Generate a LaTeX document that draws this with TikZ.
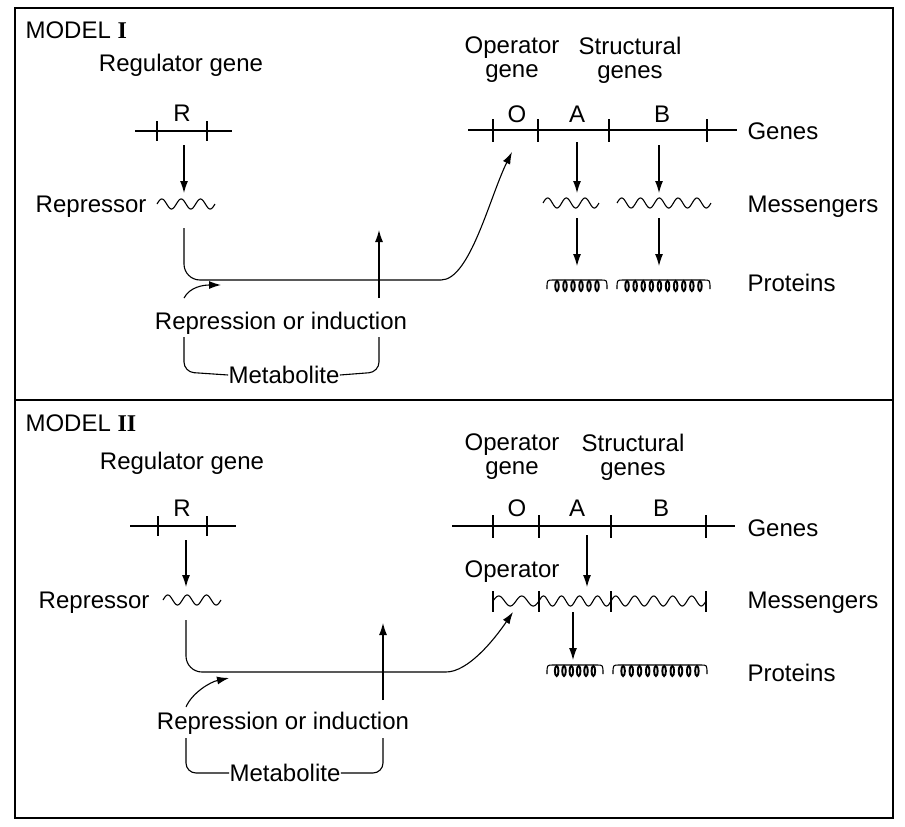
\documentclass[tikz,border=0pt]{standalone}
\usepackage{fontspec}
\setmainfont{Liberation Sans}
\newfontfamily\romanfont{Liberation Serif}
\usetikzlibrary{arrows.meta}

% wave: x1, x2, y, periods
\newcommand\wave[4]{\draw plot[domain=0:#4,samples=120,smooth] ({#1+(#2-#1)*\x/#4},{#3-5*sin(360*\x)});}
% protein: x1, x2, y, loops
\newcommand\protein[4]{%
  \draw (#1,#3+6) .. controls (#1,#3-3) .. (#1+6,#3-3) -- (#2-6,#3-3) .. controls (#2,#3-3) .. (#2,#3+6);
  \foreach \k in {1,...,#4} \draw[line width=1.9pt] ({#1+6+(#2-#1-12)*(\k-0.5)/#4},#3+3) ellipse [x radius=1.8, y radius=5];}

\begin{document}
\begin{tikzpicture}[x=1pt,y=-1pt,line width=1.1pt,
  txt/.style={font=\fontsize{24}{24}\selectfont,inner sep=0pt},
  arr/.style={-{Latex[length=12pt,width=8pt]}}]
\useasboundingbox (0,0) rectangle (905,827);
\draw (15,8) rectangle (893,818);
\draw (15,400) -- (893,400);
% model I, regulator side
\node[txt,anchor=west] (modI) at (25,30) {MODEL {\romanfont\bfseries I}};
\node[txt] (reggI) at (181,65) {Regulator gene};
\node[txt] (RI) at (182,113) {R};
\draw (135,131) -- (232,131);
\draw (157,121) -- (157,141);
\draw (207,121) -- (207,141);
\coordinate (rgI) at (184,145);
\node[txt,anchor=east] (repI) at (147,207) {Repressor};
\coordinate (rwI) at (184,193);
\wave{157}{215}{204}{3}
\draw[arr] (rgI) -- (rwI);
\node[txt] (riI) at (281,323) {Repression or induction};
\node[txt] (metI) at (284,375) {Metabolite};
\coordinate (wI) at (184,228);
\coordinate (oI) at (512,152);
\draw[arr,rounded corners=16pt] (wI) -- (184,280) -- (425,280) .. controls (470,280) and (490,196) .. (oI);
\draw[arr] (379,298) -- (379,230);
\draw[arr] (184,298) .. controls (190,287) and (203,285) .. (221,285);
\draw[rounded corners=10pt] (184,337) -- (184,372) -- (metI.west);
\draw[rounded corners=10pt] (metI.east) -- (379,372) -- (379,337);
% model I, operon side
\node[txt,align=center] (opgI) at (512,60) {Operator\\gene};
\node[txt,align=center] (strI) at (630,60) {Structural\\genes};
\node[txt] (OI) at (517,114) {O};
\node[txt] (AI) at (577,114) {A};
\node[txt] (BI) at (662,114) {B};
\draw (468,130) -- (737,130);
\draw (493,119) -- (493,142);
\draw (538,119) -- (538,142);
\draw (609,119) -- (609,142);
\draw (707,119) -- (707,142);
\node[txt,anchor=west] (genI) at (747,131) {Genes};
\node[txt,anchor=west] (mesI) at (747,207) {Messengers};
\node[txt,anchor=west] (proI) at (747,283) {Proteins};
\draw[arr] (577,142) -- (577,193);
\draw[arr] (659,145) -- (659,193);
\wave{543}{599}{203}{3}
\wave{617}{711}{203}{5}
\draw[arr] (577,218) -- (577,266);
\draw[arr] (659,218) -- (659,266);
\protein{547}{607}{283}{6}
\protein{617}{710}{283}{10}
% model II, regulator side
\node[txt,anchor=west] (modII) at (25,423) {MODEL {\romanfont\bfseries II}};
\node[txt] (reggII) at (182,463) {Regulator gene};
\node[txt] (RII) at (182,508) {R};
\draw (130,526) -- (236,526);
\draw (158,516) -- (158,536);
\draw (207,516) -- (207,536);
\node[txt,anchor=east] (repII) at (150,603) {Repressor};
\wave{163}{221}{600}{3}
\draw[arr] (186,540) -- (186,587);
\node[txt] (riII) at (283,723) {Repression or induction};
\node[txt] (metII) at (285,773) {Metabolite};
\coordinate (wII) at (186,620);
\coordinate (oII) at (513,612);
\draw[arr,rounded corners=16pt] (wII) -- (186,672) -- (430,672) .. controls (468,672) and (494,640) .. (oII);
\draw[arr] (383,700) -- (383,623);
\draw[arr] (186,707) .. controls (192,693) and (210,682) .. (229,678);
\draw[rounded corners=10pt] (186,738) -- (186,773) -- (metII.west);
\draw[rounded corners=10pt] (metII.east) -- (383,773) -- (383,738);
% model II, operon side
\node[txt,align=center] (opgII) at (512,457) {Operator\\gene};
\node[txt,align=center] (strII) at (633,457) {Structural\\genes};
\node[txt] (OII) at (517,508) {O};
\node[txt] (AII) at (577,508) {A};
\node[txt] (BII) at (661,508) {B};
\draw (452,526) -- (735,526);
\draw (493,515) -- (493,538);
\draw (539,515) -- (539,538);
\draw (611,515) -- (611,538);
\draw (706,515) -- (706,538);
\node[txt,anchor=west] (genII) at (747,528) {Genes};
\node[txt] (opII) at (512,572) {Operator};
\node[txt,anchor=west] (mesII) at (747,603) {Messengers};
\node[txt,anchor=west] (proII) at (747,673) {Proteins};
\draw[arr] (587,535) -- (587,587);
\draw (493,591) -- (493,612);
\draw (539,591) -- (539,612);
\draw (611,591) -- (611,612);
\draw (706,591) -- (706,612);
\wave{493}{539}{601}{2}
\wave{539}{611}{601}{4}
\wave{611}{706}{601}{5}
\draw[arr] (573,612) -- (573,660);
\protein{547}{603}{668}{6}
\protein{613}{707}{668}{10}
\end{tikzpicture}
\end{document}
